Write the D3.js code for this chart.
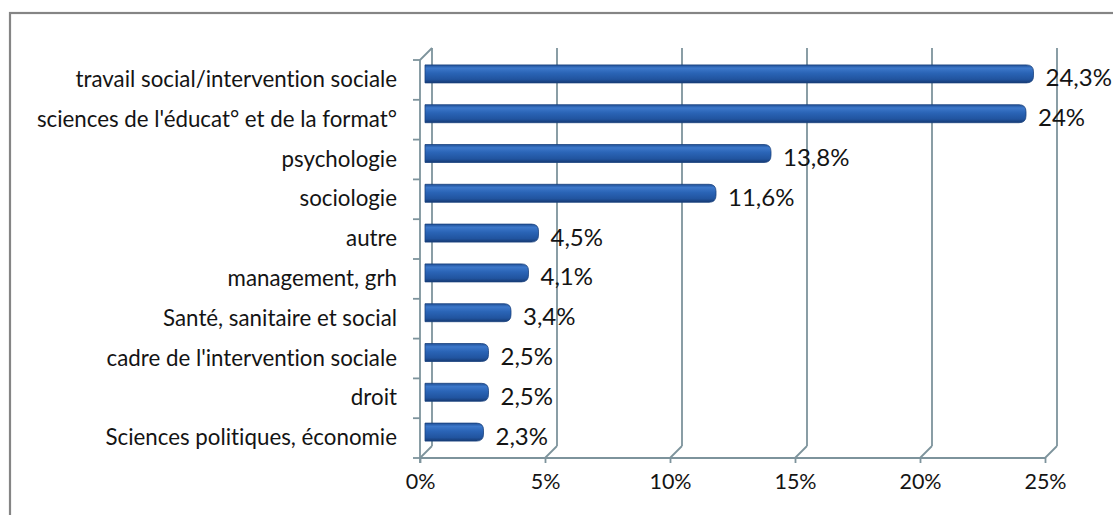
<!DOCTYPE html>
<html>
<head>
<meta charset="utf-8">
<script src="https://cdn.jsdelivr.net/npm/d3@7"></script>
<style>
  html, body { margin: 0; padding: 0; background: #ffffff; }
  svg { display: block; }
  text { font-family: Lato, "Open Sans", sans-serif; fill: #141414; font-variant-ligatures: none; }
</style>
</head>
<body>
<svg id="chart" width="1113" height="515"></svg>
<script>
// Categories listed top to bottom, with their shares in percent
const categories = [
  "travail social/intervention sociale",
  "sciences de l'éducat° et de la format°",
  "psychologie",
  "sociologie",
  "autre",
  "management, grh",
  "Santé, sanitaire et social",
  "cadre de l'intervention sociale",
  "droit",
  "Sciences politiques, économie"
];
const values = [24.3, 24, 13.8, 11.6, 4.5, 4.1, 3.4, 2.5, 2.5, 2.3];
const valueLabels = ["24,3%", "24%", "13,8%", "11,6%", "4,5%", "4,1%", "3,4%", "2,5%", "2,5%", "2,3%"];
const xTicks = [0, 5, 10, 15, 20, 25];

const svg = d3.select("#chart");

// Plot frame (front plane) and the 3D depth offset
const plotL = 420, plotR = 1045, plotT = 60, plotB = 458;
const depth = 12;
const gridColor = "#7d939c";
const textColor = "#121212";

const x = d3.scaleLinear().domain([0, 25]).range([plotL, plotR]);
const y = d3.scaleBand().domain(categories).range([plotT, plotB]);

// Outer chart border
svg.append("rect")
  .attr("x", 10).attr("y", 13)
  .attr("width", 1200).attr("height", 600)
  .attr("fill", "none").attr("stroke", "#858585").attr("stroke-width", 2.2);

// Bar gradient (cylinder-like shading)
const defs = svg.append("defs");
const grad = defs.append("linearGradient").attr("id", "barGrad")
  .attr("x1", 0).attr("y1", 0).attr("x2", 0).attr("y2", 1);
[["0%", "#1f4f96"], ["18%", "#3d78ca"], ["45%", "#2a64b6"], ["80%", "#21549f"], ["100%", "#163a73"]]
  .forEach(([o, c]) => grad.append("stop").attr("offset", o).attr("stop-color", c));

const grid = svg.append("g").attr("fill", "none").attr("stroke", gridColor).attr("stroke-width", 1.8);

// Back-wall vertical gridlines and floor diagonals
xTicks.forEach(t => {
  const xf = x(t), xb = x(t) + depth;
  grid.append("line").attr("x1", xb).attr("x2", xb).attr("y1", plotT - depth).attr("y2", plotB - depth);
  grid.append("line").attr("x1", xf).attr("y1", plotB).attr("x2", xb).attr("y2", plotB - depth);
});

// Left side wall
grid.append("line").attr("x1", plotL).attr("x2", plotL).attr("y1", plotT).attr("y2", plotB + 5);
grid.append("line").attr("x1", plotL).attr("y1", plotT).attr("x2", plotL + depth).attr("y2", plotT - depth);

// Front floor edge
grid.append("line").attr("x1", plotL).attr("x2", plotR).attr("y1", plotB).attr("y2", plotB);

// Category tick marks on the wall
const yEdges = categories.map(c => y(c)).concat([plotB]);
yEdges.forEach(v => {
  grid.append("line").attr("x1", plotL - 7).attr("x2", plotL).attr("y1", v).attr("y2", v);
});

// Value axis tick marks and labels
const xAxis = d3.axisBottom(x).tickValues(xTicks).tickFormat(d => d + "%").tickSize(5).tickPadding(11);
const gx = svg.append("g").attr("transform", `translate(0,${plotB})`).call(xAxis);
gx.select(".domain").remove();
gx.selectAll(".tick line").attr("stroke", gridColor).attr("stroke-width", 1.8);
gx.selectAll(".tick text").attr("font-size", 21.5).attr("font-family", "Lato, sans-serif").attr("fill", textColor);

// Category labels
const yAxis = d3.axisLeft(y).tickSize(0).tickPadding(plotL - 397);
const gy = svg.append("g").attr("transform", `translate(${plotL},0)`).call(yAxis);
gy.select(".domain").remove();
gy.selectAll(".tick text").attr("font-size", 22.3).attr("font-family", "Lato, sans-serif").attr("fill", textColor);

// Bars, sitting at mid-depth with a rounded outer end
const barH = 18, half = depth / 2;
const bars = svg.append("g");
categories.forEach((c, i) => {
  const cy = y(c) + y.bandwidth() / 2 - half;
  const x0 = x(0) + 5, x1 = x(values[i]) + half;
  const r = barH / 2;
  const rx = Math.min(7, (x1 - x0) / 2);
  const p = d3.path();
  p.moveTo(x0, cy - r);
  p.lineTo(x1 - rx, cy - r);
  p.quadraticCurveTo(x1, cy - r, x1, cy - r + rx);
  p.lineTo(x1, cy + r - rx);
  p.quadraticCurveTo(x1, cy + r, x1 - rx, cy + r);
  p.lineTo(x0, cy + r);
  p.closePath();
  bars.append("path").attr("d", p.toString()).attr("fill", "url(#barGrad)")
    .attr("stroke", "#1a437f").attr("stroke-width", 0.8);

  svg.append("text")
    .attr("x", x1 + 12)
    .attr("y", y(c) + y.bandwidth() / 2 - 2)
    .attr("dy", "0.35em")
    .attr("font-size", 24)
    .text(valueLabels[i]);
});
</script>
</body>
</html>
